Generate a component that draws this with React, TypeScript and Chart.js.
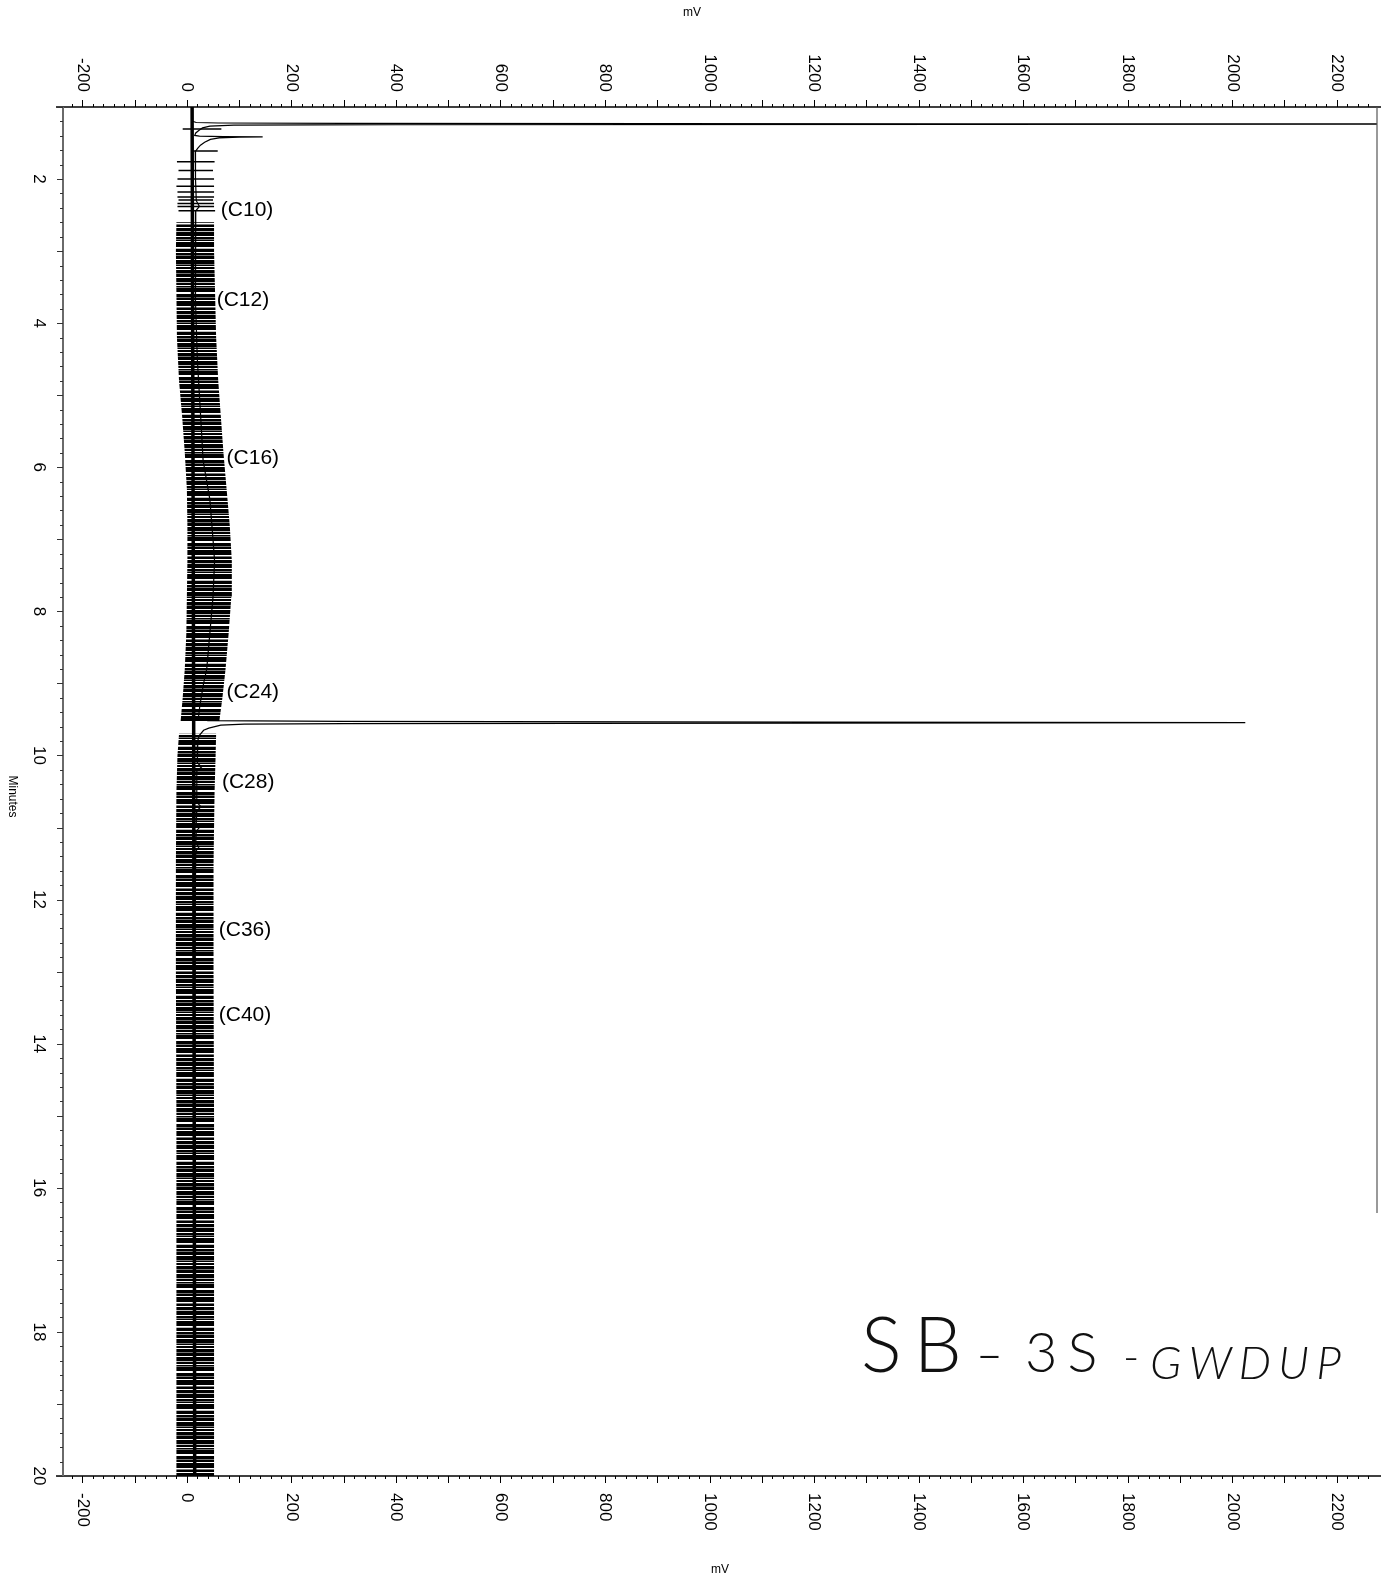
import { useEffect, useRef } from 'react';
import { Chart, registerables } from 'chart.js';

Chart.register(...registerables);

// FID trace: retention time (min) and detector response (mV)
const traceMinutes = [
  1.0, 1.2, 1.215, 1.222, 1.228, 1.233, 1.237, 1.241, 1.245, 1.252, 1.265, 1.29, 1.32, 1.36,
  1.395, 1.405, 1.411, 1.416, 1.42, 1.428, 1.45, 1.49, 1.53, 1.57, 1.62, 1.75, 2.0, 2.3, 2.38,
  2.44, 3.0, 3.7, 4.5, 5.0, 5.5, 5.9, 6.45, 7.0, 7.3, 7.8, 8.3, 8.8, 9.0, 9.3, 9.48, 9.515,
  9.527, 9.537, 9.545, 9.552, 9.558, 9.565, 9.58, 9.62, 9.65, 9.72, 9.79, 10.1, 10.16, 10.22,
  10.65, 10.71, 10.77, 10.94, 10.99, 11.05, 11.22, 11.27, 11.33, 12.0, 14.0, 17.0, 20.0,
];
const traceMv = [
  10, 11, 18, 60, 300, 1500, 2700, 1500, 400, 90, 44, 30, 24, 17,
  15, 24, 70, 145, 100, 62, 45, 34, 26, 21, 16, 16, 17, 18, 24,
  17, 16, 17, 20, 24, 28, 31, 44, 50, 53, 50, 44, 38, 32, 25, 22, 40,
  300, 1200, 2025, 1200, 300, 110, 65, 42, 32, 24, 21, 20, 28, 19,
  19, 27, 19, 18, 25, 18, 17, 23, 17, 16, 15, 15, 15,
];

// Drifting detector baseline
const baselineMinutes = [1.0, 9.5, 20.0];
const baselineMv = [10, 13, 15];

// Individual noise strokes / event marks in the early part of the run
const strokeMinutes = [1.306, 1.61, 1.76, 1.88, 2.0, 2.1, 2.18, 2.25, 2.29, 2.34, 2.38, 2.44];
const strokeLeftMv = [-8, 11, -19, -16, -18, -20, -18, -18, -16, -18, -18, -16];
const strokeRightMv = [66, 59, 53, 50, 52, 52, 52, 52, 50, 52, 52, 54];

// Dense noise envelope up to the 9.5 min peak
const bandAMinutes = [2.6, 3.0, 3.6, 4.2, 4.8, 5.3, 5.8, 6.3, 6.8, 7.3, 7.8, 8.3, 8.8, 9.2, 9.53];
const bandALeftMv = [-20, -21, -20, -19, -15, -9, -4, 0, 1, 1, 0, -1, -4, -8, -12];
const bandARightMv = [52, 52, 54, 56, 60, 65, 70, 76, 82, 86, 85, 80, 74, 68, 62];

// Dense noise envelope after the 9.5 min peak
const bandBMinutes = [9.7, 10.0, 10.5, 11.5, 13.0, 15.0, 17.0, 20.0];
const bandBLeftMv = [-15, -18, -20, -21, -21, -20, -20, -20];
const bandBRightMv = [56, 55, 53, 51, 51, 52, 52, 52];

// Carbon-range retention markers
const markerNames = ['(C10)', '(C12)', '(C16)', '(C24)', '(C28)', '(C36)', '(C40)'];
const markerMinutes = [2.43, 3.68, 5.87, 9.12, 10.37, 12.42, 13.6];
const markerMv = [65, 57, 76, 76, 67, 61, 61];

// Axis tick labels
const mvTickLabels = [-200, 0, 200, 400, 600, 800, 1000, 1200, 1400, 1600, 1800, 2000, 2200];
const minuteTickLabels = [2, 4, 6, 8, 10, 12, 14, 16, 18, 20];

const MV_MIN = -237;
const MV_MAX = 2277;
const MIN_START = 1;
const MIN_END = 20;

const SANS = '"Liberation Sans", Arial, Helvetica, sans-serif';
const PEN = `Lato, ${SANS}`;

// Horizontal stripe texture for the dense noise bands
const STRIPE_ROWS =
  'BBB.BBGBBB.BBBBGB.BB.BBBGBBB.BBBBLBB.BGBBBB..BBBGBB.BBBBB.GBB.BBBLBBBB.BBGB.BBBBB.L';

function makeStripes(rows: string): CanvasPattern | string {
  const c = document.createElement('canvas');
  c.width = 8;
  c.height = rows.length;
  const g = c.getContext('2d');
  if (!g) return '#000';
  for (let i = 0; i < rows.length; i++) {
    const ch = rows[i];
    if (ch === '.') continue;
    g.fillStyle = ch === 'B' ? '#000000' : ch === 'G' ? '#767676' : '#bdbdbd';
    g.fillRect(0, i, 8, 1);
  }
  return g.createPattern(c, 'repeat') || '#000';
}

function polygon(mins: number[], left: number[], right: number[]) {
  const l = mins.map((m, i) => ({ x: left[i], y: m }));
  const r = mins.map((m, i) => ({ x: right[i], y: m })).reverse();
  return [...l, ...r];
}

const axesPlugin = {
  id: 'chromatogramAxes',
  afterDraw(chart: any) {
    const { ctx, chartArea: a } = chart;
    const x = chart.scales.x;
    const y = chart.scales.y;
    const seg = (x1: number, y1: number, x2: number, y2: number) => {
      ctx.beginPath();
      ctx.moveTo(x1, y1);
      ctx.lineTo(x2, y2);
      ctx.stroke();
    };
    ctx.save();

    // frame
    ctx.strokeStyle = '#000';
    ctx.lineWidth = 1.6;
    seg(a.left - 7, a.top, a.right + 4, a.top);
    seg(a.left - 7, a.bottom, a.right + 4, a.bottom);
    ctx.strokeStyle = '#6a6a6a';
    ctx.lineWidth = 2;
    seg(a.left, a.top, a.left, a.bottom);
    ctx.strokeStyle = '#555';
    ctx.lineWidth = 1.2;
    seg(a.right, a.top, a.right, y.getPixelForValue(16.35));

    // mV ticks, top and bottom
    ctx.strokeStyle = '#000';
    ctx.lineWidth = 1;
    for (let v = -220; v <= 2260; v += 20) {
      const px = Math.round(x.getPixelForValue(v)) + 0.5;
      const len = v % 100 === 0 ? 7 : 3;
      seg(px, a.top, px, a.top - len);
      seg(px, a.bottom, px, a.bottom + len);
    }
    // minute ticks, left
    ctx.strokeStyle = '#333';
    for (let i = MIN_START * 5; i <= MIN_END * 5; i++) {
      const m = i / 5;
      const py = Math.round(y.getPixelForValue(m)) + 0.5;
      const len = i % 5 === 0 ? 6 : 3;
      seg(a.left, py, a.left - len, py);
    }

    // rotated tick labels
    ctx.fillStyle = '#000';
    ctx.font = `17px ${SANS}`;
    ctx.textBaseline = 'middle';
    for (const v of mvTickLabels) {
      const px = x.getPixelForValue(v);
      ctx.save();
      ctx.translate(px, a.top - 15);
      ctx.rotate(Math.PI / 2);
      ctx.textAlign = 'right';
      ctx.fillText(String(v), 0, 0);
      ctx.restore();
      ctx.save();
      ctx.translate(px, a.bottom + 17);
      ctx.rotate(Math.PI / 2);
      ctx.textAlign = 'left';
      ctx.fillText(String(v), 0, 0);
      ctx.restore();
    }
    for (const m of minuteTickLabels) {
      const py = y.getPixelForValue(m);
      ctx.save();
      ctx.translate(a.left - 24, py);
      ctx.rotate(Math.PI / 2);
      ctx.textAlign = 'center';
      ctx.fillText(String(m), 0, 0);
      ctx.restore();
    }

    // axis titles
    ctx.font = `12px ${SANS}`;
    ctx.textAlign = 'center';
    ctx.fillText('mV', 692, 13);
    ctx.fillText('mV', 720, 1570);
    ctx.save();
    ctx.translate(12, (a.top + a.bottom) / 2 + 5);
    ctx.rotate(Math.PI / 2);
    ctx.fillText('Minutes', 0, 0);
    ctx.restore();

    // carbon range markers
    ctx.font = `21px ${SANS}`;
    ctx.textAlign = 'left';
    ctx.textBaseline = 'middle';
    markerNames.forEach((name, i) => {
      ctx.fillText(name, x.getPixelForValue(markerMv[i]), y.getPixelForValue(markerMinutes[i]));
    });

    // sample id written on the sheet
    ctx.textBaseline = 'alphabetic';
    ctx.fillStyle = '#111';
    ctx.letterSpacing = '12px';
    ctx.font = `300 76px ${PEN}`;
    ctx.fillText('SB', 861, 1372);
    ctx.letterSpacing = '0px';
    ctx.font = `300 52px ${PEN}`;
    ctx.save();
    ctx.translate(975, 1372);
    ctx.scale(1.5, 1);
    ctx.fillText('-', 0, 0);
    ctx.restore();
    ctx.letterSpacing = '10px';
    ctx.font = `300 56px ${PEN}`;
    ctx.fillText('3S', 1025, 1372);
    ctx.letterSpacing = '0px';
    ctx.font = `300 44px ${PEN}`;
    ctx.fillText('-', 1123, 1372);
    ctx.letterSpacing = '7px';
    ctx.font = `italic 300 46px ${PEN}`;
    ctx.fillText('GWDUP', 1150, 1379);
    ctx.letterSpacing = '0px';

    ctx.restore();
  },
};

export default function App() {
  const ref = useRef<HTMLCanvasElement>(null);

  useEffect(() => {
    const canvas = ref.current;
    if (!canvas) return;
    const dense = makeStripes(STRIPE_ROWS);

    const strokes: any[] = [];
    strokeMinutes.forEach((m, i) => {
      strokes.push({ x: strokeLeftMv[i], y: m }, { x: strokeRightMv[i], y: m }, { x: null, y: null });
    });

    const chart = new Chart(canvas, {
      type: 'scatter',
      data: {
        datasets: [
          {
            label: 'FID',
            data: traceMinutes.map((m, i) => ({ x: traceMv[i], y: m })),
            showLine: true,
            borderColor: '#000',
            borderWidth: 1.2,
            pointRadius: 0,
          },
          {
            label: 'Baseline',
            data: baselineMinutes.map((m, i) => ({ x: baselineMv[i], y: m })),
            showLine: true,
            borderColor: '#000',
            borderWidth: 3.5,
            pointRadius: 0,
          },
          {
            label: 'Early noise',
            data: strokes,
            showLine: true,
            spanGaps: false,
            borderColor: '#000',
            borderWidth: 1.5,
            pointRadius: 0,
          },
          {
            label: 'Noise A',
            data: polygon(bandAMinutes, bandALeftMv, bandARightMv),
            showLine: true,
            fill: 'shape',
            backgroundColor: dense as any,
            borderWidth: 0,
            pointRadius: 0,
          },
          {
            label: 'Noise B',
            data: polygon(bandBMinutes, bandBLeftMv, bandBRightMv),
            showLine: true,
            fill: 'shape',
            backgroundColor: dense as any,
            borderWidth: 0,
            pointRadius: 0,
          },
        ] as any,
      },
      options: {
        animation: false,
        responsive: false,
        maintainAspectRatio: false,
        devicePixelRatio: 1,
        events: [],
        layout: { padding: { left: 63, top: 107, right: 7, bottom: 105 } },
        plugins: {
          legend: { display: false },
          tooltip: { enabled: false },
          title: { display: false },
        },
        scales: {
          x: { type: 'linear', min: MV_MIN, max: MV_MAX, display: false },
          y: { type: 'linear', min: MIN_START, max: MIN_END, reverse: true, display: false },
        },
      },
      plugins: [axesPlugin],
    });
    return () => chart.destroy();
  }, []);

  return (
    <div style={{ position: 'absolute', left: 0, top: 0, width: 1384, height: 1581, background: '#fff' }}>
      <canvas ref={ref} width={1384} height={1581} style={{ display: 'block', width: 1384, height: 1581 }} />
    </div>
  );
}
